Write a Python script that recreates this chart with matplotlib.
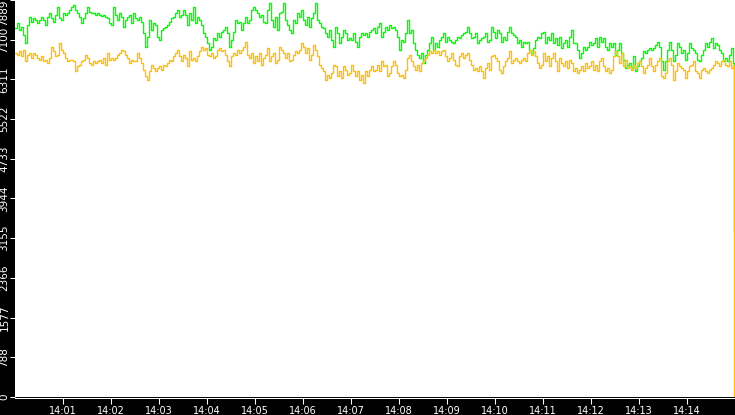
import numpy as np
import matplotlib
matplotlib.use("Agg")
import matplotlib.pyplot as plt

green = [
    7328, 7427, 7295, 7361, 7196, 7031, 7394, 7559, 7460, 7526, 7493, 7427, 7493, 7559, 7493, 7394, 7559, 7625, 7526, 7460,
    7592, 7757, 7526, 7493, 7625, 7592, 7625, 7691, 7757, 7790, 7691, 7625, 7559, 7427, 7526, 7625, 7757, 7658, 7625, 7638,
    7592, 7625, 7592, 7572, 7592, 7559, 7526, 7427, 7394, 7757, 7592, 7493, 7625, 7559, 7361, 7493, 7559, 7592, 7427, 7625,
    7526, 7493, 7559, 7460, 7229, 6965, 7163, 7493, 7295, 7427, 7394, 7163, 7097, 7295, 7328, 7361, 7394, 7460, 7526, 7559,
    7625, 7691, 7559, 7592, 7691, 7592, 7394, 7625, 7493, 7757, 7427, 7559, 7493, 7394, 7229, 7163, 7031, 6899, 6965, 7130,
    7097, 7229, 7163, 7262, 7295, 7361, 7229, 6965, 7097, 7262, 7493, 7427, 7460, 7295, 7427, 7559, 7427, 7493, 7691, 7757,
    7691, 7625, 7559, 7592, 7460, 7427, 7691, 7823, 7493, 7361, 7559, 7295, 7625, 7658, 7823, 7493, 7394, 7295, 7229, 7493,
    7427, 7625, 7559, 7691, 7493, 7394, 7559, 7361, 7526, 7625, 7823, 7493, 7427, 7361, 7328, 7229, 7163, 7295, 7097, 6965,
    7361, 7229, 7031, 7163, 7295, 7229, 7097, 7130, 7097, 7229, 7064, 6965, 7163, 7229, 7196, 7229, 7163, 7262, 7295, 7328,
    7229, 7361, 7427, 7163, 7262, 7361, 7295, 7394, 7328, 7361, 7295, 7163, 6899, 7097, 7064, 7229, 7493, 7229, 7295, 7031,
    6899, 6800, 6734, 6833, 6635, 6800, 6899, 7031, 7163, 6899, 7031, 6965, 7097, 7163, 7229, 7064, 7163, 7097, 7064, 7031,
    7097, 7163, 7130, 7196, 7229, 7262, 7361, 7229, 7130, 7163, 7229, 7031, 7097, 7130, 7163, 7229, 7064, 7097, 7361, 7262,
    7130, 7295, 7229, 7064, 7163, 7097, 7262, 7361, 7229, 7196, 7163, 7031, 7097, 6965, 7064, 7031, 7064, 6899, 6833, 6932,
    7097, 7163, 7130, 7229, 7262, 7031, 7163, 7097, 7229, 7031, 7130, 6998, 7163, 6932, 7031, 7097, 6965, 7163, 7295, 7031,
    7031, 6899, 6734, 6833, 6965, 6899, 6965, 7064, 6998, 7031, 7130, 6965, 7163, 7064, 7130, 6965, 6899, 7031, 6965, 7031,
    6800, 6899, 7031, 6833, 6701, 6536, 6602, 6635, 6536, 6767, 6470, 6569, 6668, 6734, 6866, 6833, 6899, 6932, 6899, 6932,
    6998, 7064, 6965, 6668, 6503, 6668, 6899, 7064, 6899, 6668, 6800, 7031, 6965, 6833, 6899, 6701, 6833, 7031, 6932, 6899,
    6833, 6701, 6668, 6800, 6899, 7031, 6965, 7064, 7130, 6932, 7031, 6998, 6899, 6833, 6668, 6734, 6668, 6800, 6932, 6635,
]
orange = [
    6833, 6800, 6866, 6767, 6899, 6668, 6800, 6833, 6734, 6833, 6800, 6734, 6701, 6767, 6668, 6701, 6635, 6734, 6965, 6866,
    6767, 6800, 7031, 6899, 6833, 6734, 6668, 6701, 6701, 6668, 6470, 6569, 6602, 6668, 6701, 6800, 6734, 6635, 6602, 6668,
    6635, 6668, 6701, 6635, 6734, 6602, 6833, 6701, 6734, 6701, 6734, 6800, 6833, 6899, 6866, 6800, 6734, 6635, 6701, 6668,
    6668, 6833, 6734, 6635, 6503, 6371, 6305, 6470, 6602, 6536, 6470, 6536, 6569, 6503, 6602, 6569, 6635, 6701, 6668, 6767,
    6833, 6899, 6767, 6668, 6800, 6734, 6569, 6866, 6701, 6734, 6668, 6767, 6866, 6965, 6899, 6932, 6800, 6767, 6833, 6734,
    6767, 6899, 6932, 6866, 6899, 6800, 6668, 6569, 6767, 6833, 6800, 6899, 6833, 6899, 6965, 7064, 6800, 6734, 6833, 6635,
    6767, 6668, 6833, 6602, 6734, 6800, 6932, 6668, 6767, 6833, 6635, 6701, 6965, 6899, 6833, 6734, 6833, 6668, 6701, 6800,
    6866, 6833, 6899, 7031, 6965, 6833, 6932, 6701, 6800, 6998, 6899, 6767, 6602, 6536, 6470, 6305, 6404, 6338, 6437, 6602,
    6569, 6371, 6470, 6338, 6569, 6503, 6404, 6437, 6602, 6470, 6371, 6470, 6305, 6404, 6239, 6470, 6371, 6503, 6569, 6470,
    6503, 6602, 6470, 6668, 6569, 6602, 6371, 6437, 6569, 6668, 6602, 6437, 6371, 6404, 6338, 6503, 6734, 6800, 6668, 6569,
    6503, 6602, 6470, 6635, 6701, 6734, 6800, 6866, 6833, 6899, 6833, 6866, 6800, 6866, 6899, 6767, 6668, 6734, 6833, 6701,
    6602, 6569, 6767, 6833, 6734, 6800, 6833, 6701, 6602, 6503, 6536, 6470, 6569, 6470, 6338, 6536, 6635, 6503, 6767, 6800,
    6734, 6668, 6503, 6437, 6569, 6668, 6734, 6866, 6635, 6701, 6734, 6668, 6635, 6701, 6734, 6668, 6833, 6899, 6800, 6866,
    6767, 6635, 6536, 6602, 6833, 6668, 6767, 6569, 6734, 6833, 6668, 6470, 6734, 6635, 6569, 6668, 6536, 6701, 6635, 6470,
    6536, 6437, 6503, 6569, 6470, 6635, 6536, 6569, 6668, 6503, 6602, 6470, 6668, 6734, 6569, 6470, 6536, 6437, 6503, 6767,
    6866, 6767, 6635, 6833, 6569, 6701, 6536, 6569, 6503, 6602, 6536, 6635, 6668, 6569, 6437, 6536, 6602, 6734, 6569, 6470,
    6602, 6668, 6734, 6371, 6338, 6437, 6668, 6734, 6602, 6305, 6470, 6635, 6569, 6536, 6503, 6338, 6470, 6569, 6602, 6668,
    6470, 6437, 6338, 6503, 6536, 6470, 6437, 6503, 6536, 6602, 6668, 6635, 6569, 6668, 6701, 6602, 6569, 6668, 6536, 6602,
]
# last sample, where both series fall away
green_end = 3300
orange_end = 0

y_max = 7889.4
y_labels = ["0", "788", "1577", "2366", "3155", "3944", "4733", "5522", "6311", "7100", "7889"]
x_ticks = [60, 120, 180, 240, 300, 360, 420, 480, 540, 600, 660, 720, 780, 840]
x_labels = ["14:01", "14:02", "14:03", "14:04", "14:05", "14:06", "14:07",
            "14:08", "14:09", "14:10", "14:11", "14:12", "14:13", "14:14"]

fig = plt.figure(figsize=(7.35, 4.15), dpi=100, facecolor="black")
ax = fig.add_axes([15 / 735, 18 / 415, 720 / 735, 397 / 415])
ax.set_facecolor("white")

t_g = np.append(np.linspace(0, 897.5, len(green)), 898.6)
t_o = np.append(np.linspace(0, 897.5, len(orange)), 898.6)
ax.plot(t_g, np.append(green, green_end), color="#00ff00", lw=1.0,
        drawstyle="steps-post", snap=True)
ax.plot(t_o, np.append(orange, orange_end), color="#ffc000", lw=1.0,
        drawstyle="steps-post", snap=True)

ax.set_xlim(0, 900)
ax.set_ylim(0, y_max)

for side in ["top", "right", "left"]:
    ax.spines[side].set_visible(False)
ax.spines["bottom"].set_color("white")
ax.spines["bottom"].set_linewidth(0.75)
ax.spines["bottom"].set_position(("outward", 1))

ax.set_xticks(x_ticks, x_labels)
ax.tick_params(axis="x", colors="white", length=4.3, width=0.75, pad=1, labelsize=7)

y_ticks = [y_max * i / 10 for i in range(len(y_labels))]
ax.set_yticks(y_ticks, y_labels, rotation=90, va="center")
ax.tick_params(axis="y", colors="white", length=3.6, width=0.75, pad=0.3, labelsize=7.5)
ax.get_yticklabels()[-1].set_verticalalignment("top")

fig.savefig("out.png", dpi=100, facecolor="black")
